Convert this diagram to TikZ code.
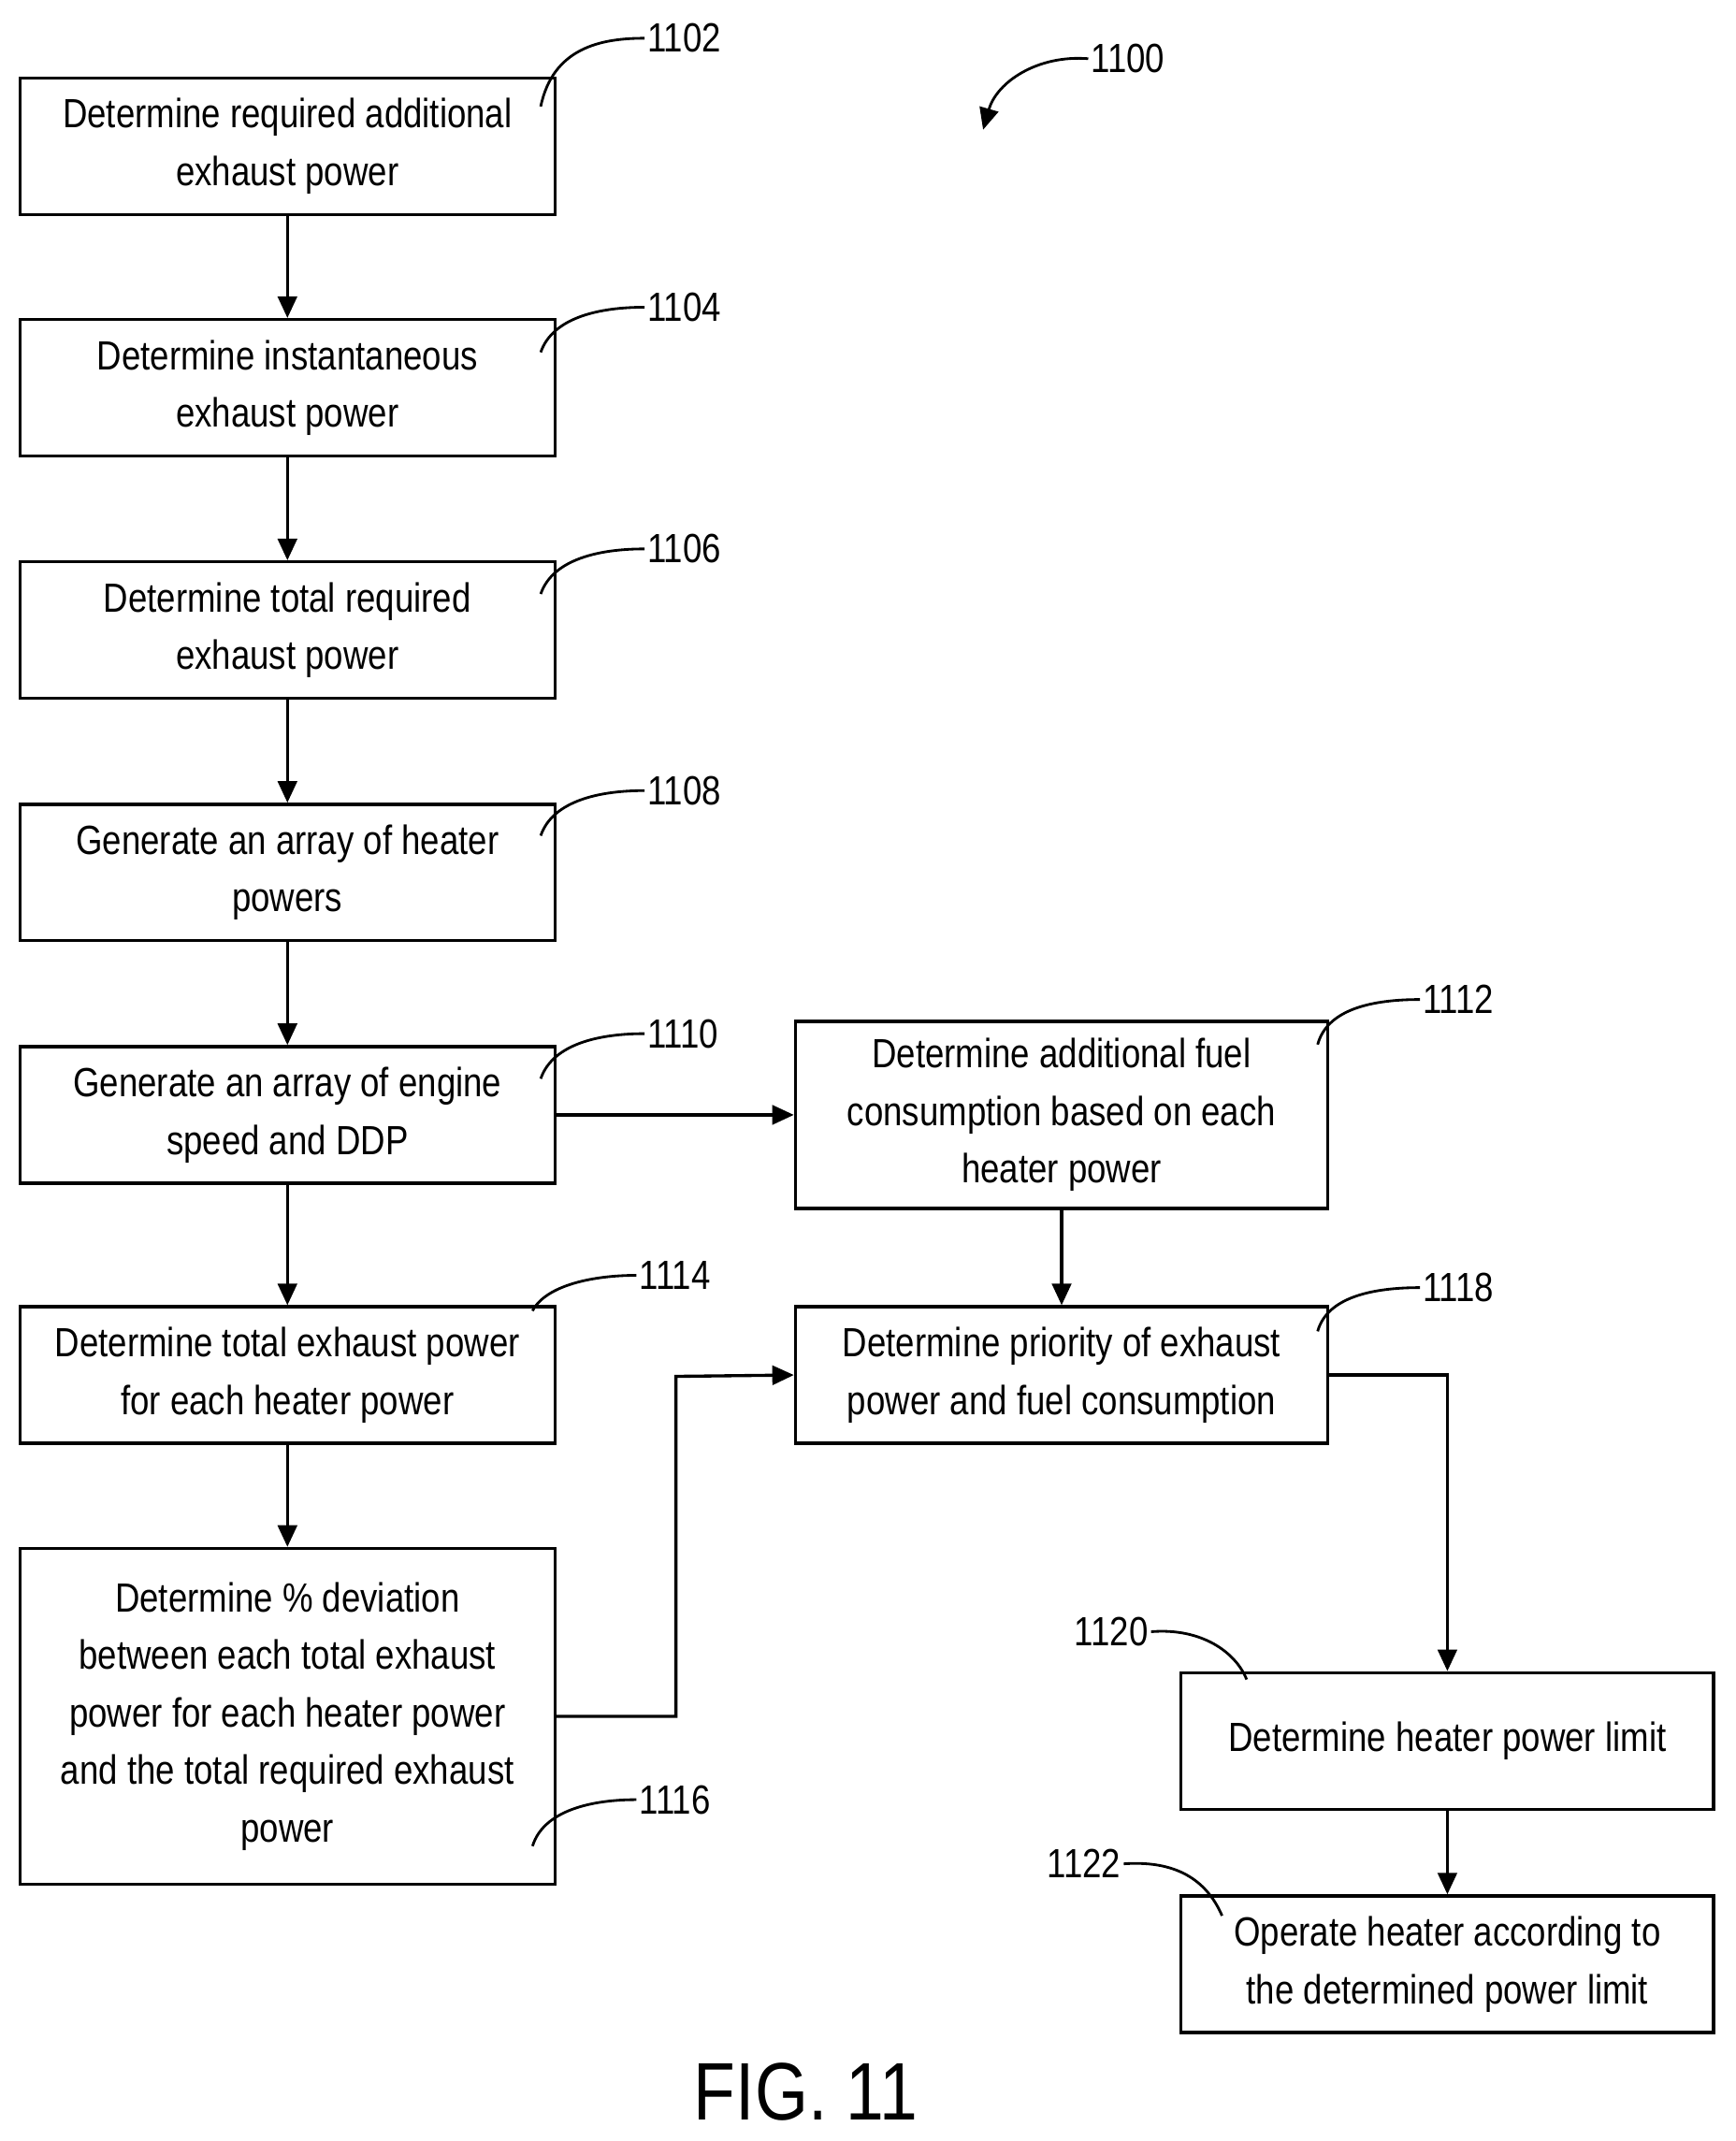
\documentclass[tikz,border=0pt]{standalone}
\usepackage{fontspec}
\setmainfont{Liberation Sans}[FakeStretch=0.84]
\usetikzlibrary{arrows.meta,positioning}
\tikzset{>={Triangle[length=9pt,width=8pt]},
  block/.style={draw,line width=1.3pt,align=center,inner sep=0pt,minimum width=7.84cm,minimum height=2cm,font=\fontsize{17}{24}\selectfont},
  ref/.style={font=\fontsize{17}{20}\selectfont,inner sep=1pt},
  lead/.style={line width=1.1pt}}
\begin{document}
\begin{tikzpicture}[x=0.02cm,y=-0.02cm]
  \useasboundingbox (0,0) rectangle (1271,1568);
  % left column
  \node[block] (s1102) at (210.5,107) {Determine required additional\\exhaust power};
  \node[block] (s1104) at (210.5,284) {Determine instantaneous\\exhaust power};
  \node[block] (s1106) at (210.5,461.5) {Determine total required\\exhaust power};
  \node[block] (s1108) at (210.5,639) {Generate an array of heater\\powers};
  \node[block] (s1110) at (210.5,816.5) {Generate an array of engine\\speed and DDP};
  \node[block] (s1114) at (210.5,1007) {Determine total exhaust power\\for each heater power};
  \node[block,minimum height=4.92cm] (s1116) at (210.5,1257) {Determine \% deviation\\between each total exhaust\\power for each heater power\\and the total required exhaust\\power};
  % right column
  \node[block,minimum width=7.8cm,minimum height=2.74cm] (s1112) at (777.5,816.5) {Determine additional fuel\\consumption based on each\\heater power};
  \node[block,minimum width=7.8cm] (s1118) at (777.5,1007) {Determine priority of exhaust\\power and fuel consumption};
  \node[block,minimum width=7.8cm] (s1120) at (1060,1275) {Determine heater power limit};
  \node[block,minimum width=7.8cm] (s1122) at (1060,1438.5) {Operate heater according to\\the determined power limit};

  % connectors
  \draw[->,line width=1.3pt] (s1102) -- (s1104);
  \draw[->,line width=1.3pt] (s1104) -- (s1106);
  \draw[->,line width=1.3pt] (s1106) -- (s1108);
  \draw[->,line width=1.3pt] (s1108) -- (s1110);
  \draw[->,line width=1.3pt] (s1110) -- (s1114);
  \draw[->,line width=1.3pt] (s1114) -- (s1116);
  \draw[->,line width=1.3pt] (s1110) -- (s1112);
  \draw[->,line width=1.3pt] (s1112) -- (s1118);
  \draw[->,line width=1.3pt] (s1116.east) -| (495,1008) -- (s1118.west);
  \draw[->,line width=1.3pt] (s1118.east) -| (s1120.north);
  \draw[->,line width=1.3pt] (s1120) -- (s1122);

  % reference numerals
  \node[ref,anchor=west] (n1102) at (472,28) {1102};
  \node[ref,anchor=west] (n1104) at (472,225) {1104};
  \node[ref,anchor=west] (n1106) at (472,402) {1106};
  \node[ref,anchor=west] (n1108) at (472,579) {1108};
  \node[ref,anchor=west] (n1110) at (472,757) {1110};
  \node[ref,anchor=west] (n1114) at (466,934) {1114};
  \node[ref,anchor=west] (n1116) at (466,1318) {1116};
  \node[ref,anchor=west] (n1112) at (1040,732) {1112};
  \node[ref,anchor=west] (n1118) at (1040,943) {1118};
  \node[ref,anchor=east] (n1120) at (843,1195) {1120};
  \node[ref,anchor=east] (n1122) at (823,1365) {1122};
  \node[ref,anchor=west] (n1100) at (797,43) {1100};
  \node[font=\fontsize{34}{38}\selectfont] (fig) at (590,1532) {FIG. 11};

  \draw[lead] (396,78) .. controls (405,35) and (440,28) .. (n1102.west);
  \draw[lead] (396,258) .. controls (405,232) and (440,225) .. (n1104.west);
  \draw[lead] (396,435) .. controls (405,409) and (440,402) .. (n1106.west);
  \draw[lead] (396,612) .. controls (405,586) and (440,579) .. (n1108.west);
  \draw[lead] (396,790) .. controls (405,764) and (440,757) .. (n1110.west);
  \draw[lead] (390,960) .. controls (400,941) and (435,934) .. (n1114.west);
  \draw[lead] (390,1352) .. controls (398,1326) and (433,1318) .. (n1116.west);
  \draw[lead] (965,765) .. controls (972,739) and (1005,732) .. (n1112.west);
  \draw[lead] (965,975) .. controls (972,950) and (1005,943) .. (n1118.west);
  \draw[lead] (n1120.east) .. controls (880,1192) and (905,1210) .. (913,1230);
  \draw[lead] (n1122.east) .. controls (865,1362) and (885,1380) .. (895,1403);
  \draw[lead,->] (n1100.west) .. controls (760,40) and (730,60) .. (720,95);
\end{tikzpicture}
\end{document}
